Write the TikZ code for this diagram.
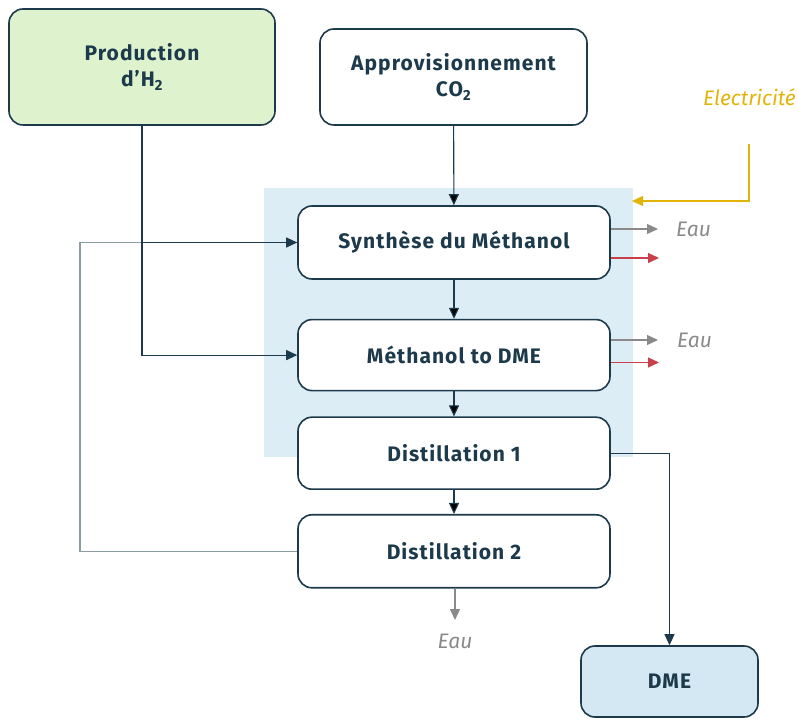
\documentclass[tikz,border=0pt]{standalone}
\usepackage{fontspec}
\setmainfont{Fira Sans}
\newfontfamily\titre{Fira Sans}[LetterSpace=5]
\usepackage{tikz}
\usetikzlibrary{positioning}
\usetikzlibrary{arrows.meta}

\definecolor{encre}{RGB}{28,58,75}
\definecolor{vertpale}{RGB}{223,242,206}
\definecolor{fondbleu}{RGB}{220,237,245}
\definecolor{bleudme}{RGB}{211,232,242}
\definecolor{grisEau}{RGB}{138,138,138}
\definecolor{grisBoucle}{RGB}{140,156,164}
\definecolor{rougeflux}{RGB}{200,64,74}
\definecolor{jaune}{RGB}{226,180,10}

\begin{document}
\begin{tikzpicture}[
            x = 1pt, y = 1pt,
            > = {Triangle[length=11pt,width=10pt]}, % arrow head style
            node distance = 25pt, % gap between boxes
            font = \titre\fontsize{21}{26}\selectfont\bfseries
        ]

        \tikzstyle{etape}=[
            draw = encre,
            line width = 1.6pt,
            rounded corners = 14pt,
            fill = white,
            text = encre,
            align = center,
            minimum width = 312pt,
            minimum height = 72pt
        ]
        \tikzstyle{flux}=[->, draw = encre, line width = 1.1pt]
        \tikzstyle{sortie}=[->, draw = grisEau, line width = 1.1pt]
        \tikzstyle{chaleur}=[->, draw = rougeflux, line width = 1.1pt]
        \tikzstyle{legende}=[font = \fontsize{21}{24}\selectfont\itshape, inner sep = 0pt]

        \useasboundingbox (0,0) rectangle (798,718);

	% zone of the reactor
        \fill[fondbleu] (264,261) rectangle (633,530);

	% inputs
        \node[etape, fill = vertpale, minimum width = 266pt, minimum height = 116pt] (h2) at (142,651) {Production\\d’H\textsubscript{2}};
        \node[etape, minimum width = 267pt, minimum height = 96pt] (co2) at (453.5,641) {Approvisionnement\\CO\textsubscript{2}};

	% process chain
        \node[etape, minimum height = 73pt] (syn) at (454,475.5) {Synthèse du Méthanol};
        \node[etape, minimum height = 71pt] (mtd) [below = 39pt of syn] {Méthanol to DME};
        \node[etape] (dist1) [below = of mtd] {Distillation 1};
        \node[etape, minimum height = 73pt] (dist2) [below = 24pt of dist1] {Distillation 2};

	% product
        \node[etape, fill = bleudme, minimum width = 177pt, minimum height = 71pt] (dme) at (669.5,36.5) {DME};

	% recycle loop
        \coordinate (boucle) at (80,0);
        \draw[draw = grisBoucle, line width = 1.1pt] (dist2.west) -| (boucle |- syn.west) -- (syn.west);

	% main flow
        \path[flux] (co2) edge (syn);
        \path[flux] (syn) edge (mtd);
        \path[flux] (mtd) edge (dist1);
        \path[flux] (dist1) edge (dist2);
        \draw[flux] (h2.south) |- (syn.west);
        \draw[flux] (h2.south) |- (mtd.west);
        \draw[flux] (dist1.east) -| (dme.north);

	% electricity
        \node[legende, text = jaune] (elec) at (749.5,621) {Electricité};
        \coordinate (elecbas) at (749,574);
        \coordinate (entree) at (632,517);
        \draw[->, draw = jaune, line width = 1.1pt] (elecbas) |- (entree);

	% water and heat
        \coordinate (s1) at (658,489);
        \coordinate (r1) at (659,460);
        \coordinate (s2) at (658,378);
        \coordinate (r2) at (659,355.5);
        \coordinate (s3) at (455,98);
        \node[legende, text = grisEau, anchor = west] (eau1) at (676,489) {Eau};
        \node[legende, text = grisEau, anchor = west] (eau2) at (677,378) {Eau};
        \node[legende, text = grisEau] (eau3) at (455,77) {Eau};
        \draw[sortie] (syn.east |- s1) -- (s1);
        \draw[chaleur] (syn.east |- r1) -- (r1);
        \draw[sortie] (mtd.east |- s2) -- (s2);
        \draw[chaleur] (mtd.east |- r2) -- (r2);
        \draw[sortie] (dist2.south -| s3) -- (s3);

\end{tikzpicture}
\end{document}
